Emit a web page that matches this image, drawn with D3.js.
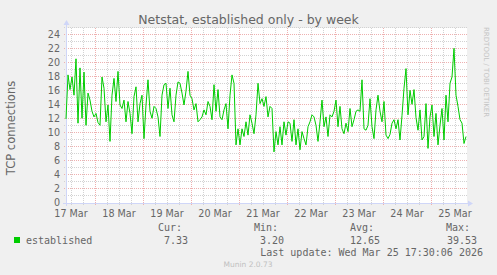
<!DOCTYPE html>
<html><head><meta charset="utf-8">
<script src="https://cdn.jsdelivr.net/npm/d3@7"></script>
<style>
body{margin:0;background:#F0F0F0;overflow:hidden}
svg{display:block}
text{font-family:"DejaVu Sans",sans-serif}
.mono{font-family:"DejaVu Sans Mono",monospace}
</style>
</head><body>
<svg id="chart" width="497" height="275"></svg>
<script>
// ---------- data ----------
const chartTitle = "Netstat, established only - by week";
const yAxisTitle = "TCP connections";
const seriesName = "established";
const startTime = new Date(2026, 2, 17, 9, 30);
const endTime = new Date(2026, 2, 25, 17, 30);
// hourly values, 17 Mar 09:30 -> 25 Mar 17:30
const established = [
12.0,18.3,16.2,18.0,15.4,20.6,11.4,19.3,12.1,18.7,11.1,15.7,14.7,13.1,12.3,12.8,11.5,11.1,18.0,16.4,
11.6,14.0,8.8,15.4,17.8,14.5,18.8,14.0,13.5,14.7,11.6,14.5,12.8,9.9,15.2,16.6,11.6,14.2,15.4,9.2,
14.0,17.6,13.1,12.1,13.8,13.5,12.3,9.5,15.4,16.9,17.1,13.5,16.4,12.6,11.6,15.4,17.3,17.1,15.7,14.0,
16.0,18.8,15.4,14.9,13.3,14.2,11.6,11.9,12.3,13.3,12.6,14.5,13.8,11.9,16.9,13.1,16.2,12.3,11.9,13.3,
14.2,10.6,15.4,18.3,17.1,8.3,10.6,8.3,10.6,9.5,11.6,9.7,12.6,11.4,9.9,12.6,17.1,14.2,14.9,13.8,
15.2,12.3,13.8,13.5,7.3,10.2,8.3,10.9,8.3,11.6,9.7,11.6,11.4,8.8,11.9,8.3,10.6,7.6,10.2,9.2,
8.3,10.9,11.6,12.6,12.3,11.1,8.8,11.6,14.7,10.9,12.3,9.5,12.6,12.3,13.1,14.7,10.9,13.8,10.6,9.9,
11.4,10.2,13.5,10.9,11.9,13.1,13.3,13.1,17.6,10.6,10.4,11.1,14.9,10.9,9.2,13.3,15.4,13.1,11.6,14.5,
9.7,9.2,9.8,11.4,11.9,10.6,11.9,9.0,12.5,16.4,19.2,12.6,16.1,14.1,16.2,12.2,10.4,13.3,9.0,9.5,
14.2,7.8,12.3,14.0,9.5,12.8,8.3,11.1,13.5,9.0,15.4,11.6,17.1,18.0,22.1,15.4,13.8,11.9,11.4,8.5,
9.5
];
const yTickValues = [0,2,4,6,8,10,12,14,16,18,20,22,24];
const dayLabels = ["17 Mar","18 Mar","19 Mar","20 Mar","21 Mar","22 Mar","23 Mar","24 Mar","25 Mar"];
const statLabels = ["Cur:","Min:","Avg:","Max:"];
const statValues = ["7.33","3.20","12.65","39.53"];
const lastUpdate = "Last update: Wed Mar 25 17:30:06 2026";
const footerText = "Munin 2.0.73";
const sideText = "RRDTOOL / TOBI OETIKER";

// ---------- layout ----------
const L = 66, R = 466, T = 28, B = 203;
const svg = d3.select("#chart");
const x = d3.scaleTime().domain([startTime, endTime]).range([L, R]);
const y = d3.scaleLinear().domain([0, 25]).range([B, T]);
const px = v => Math.round(v) + 0.5;

const fontCol = "#666666", axisCol = "#CFD6F8";
const gridCol = "#d2d2d2", mgridCol = "#eeb0b0";

svg.append("rect").attr("width",497).attr("height",275).attr("fill","#F0F0F0");
svg.append("rect").attr("x",L).attr("y",T).attr("width",R-L+1).attr("height",B-T).attr("fill","#ffffff");

const g = svg.append("g");
// horizontal grid
d3.range(1, 26).forEach(v => {
  const major = yTickValues.includes(v);
  g.append("line").attr("x1",L-2).attr("x2",R+1).attr("y1",px(y(v))-1).attr("y2",px(y(v))-1)
    .attr("stroke", major ? mgridCol : gridCol).attr("stroke-dasharray","1,1");
});
// vertical grid
const sixHours = d3.timeHour.every(6).range(startTime, endTime);
sixHours.forEach(t => {
  const major = t.getHours() === 0;
  g.append("line").attr("x1",px(x(t))).attr("x2",px(x(t))).attr("y1",T).attr("y2",B+2)
    .attr("stroke", major ? mgridCol : gridCol).attr("stroke-dasharray","1,1");
});

// axes
g.append("line").attr("x1",L-3).attr("x2",R+3).attr("y1",B+0.5).attr("y2",B+0.5).attr("stroke",axisCol);
g.append("line").attr("x1",L+0.5).attr("x2",L+0.5).attr("y1",B+3).attr("y2",T-4).attr("stroke",axisCol);
g.append("path").attr("d",`M${R+2},${B-2.5}L${R+7},${B+0.5}L${R+2},${B+3.5}Z`).attr("fill",axisCol);
g.append("path").attr("d",`M${L-2.5},${T-3}L${L+0.5},${T-8}L${L+3.5},${T-3}Z`).attr("fill",axisCol);

// y tick labels
yTickValues.forEach(v => {
  svg.append("text").attr("x",L-6).attr("y",y(v)).attr("dy","0.34em")
    .attr("text-anchor","end").attr("font-size","9.6px").attr("fill",fontCol).text(v);
});
// x day labels at noon
const noons = d3.timeDay.range(d3.timeDay.floor(startTime), endTime).map(d => d3.timeHour.offset(d, 12));
noons.forEach((t, i) => {
  svg.append("text").attr("x",x(t)).attr("y",B+13.5).attr("text-anchor","middle")
    .attr("font-size","9.6px").attr("fill",fontCol).text(dayLabels[i]);
});

// series
const data = established.map((v, i) => ({
  t: new Date(+startTime + i * (endTime - startTime) / (established.length - 1)), v
}));
svg.append("path").datum(data)
  .attr("d", d3.line().x(d => x(d.t)).y(d => y(d.v)))
  .attr("fill","none").attr("stroke","#00CC00").attr("stroke-width",1);

// titles
svg.append("text").attr("x",248.5).attr("y",24).attr("text-anchor","middle")
  .attr("font-size","12.5px").attr("fill",fontCol).text(chartTitle);
svg.append("text").attr("transform","translate(15,128) rotate(-90)")
  .attr("text-anchor","middle").attr("font-size","11.5px").attr("fill",fontCol).text(yAxisTitle);
svg.append("text").attr("transform","translate(484,27) rotate(90)")
  .attr("font-size","7px").attr("fill","#c4c4c4").text(sideText);

// legend
svg.append("rect").attr("x",14).attr("y",237).attr("width",6).attr("height",6).attr("fill","#00CC00");
svg.append("text").attr("class","mono").attr("x",26).attr("y",243.5).attr("font-size","10px")
  .attr("fill",fontCol).text(seriesName);
const statX = [182, 278, 374, 470];
statLabels.forEach((s, i) => {
  svg.append("text").attr("class","mono").attr("x",statX[i]).attr("y",231).attr("text-anchor","end")
    .attr("font-size","10px").attr("fill",fontCol).text(s);
  svg.append("text").attr("class","mono").attr("x",statX[i] + (i === 3 ? 7 : 6)).attr("y",243.5)
    .attr("text-anchor","end").attr("font-size","10px").attr("fill",fontCol).text(statValues[i]);
});
svg.append("text").attr("class","mono").attr("x",483).attr("y",255.5).attr("text-anchor","end")
  .attr("font-size","10px").attr("fill",fontCol).text(lastUpdate);
svg.append("text").attr("x",248).attr("y",267).attr("text-anchor","middle")
  .attr("font-size","7.5px").attr("fill","#c0c0c0").text(footerText);
</script>
</body></html>
